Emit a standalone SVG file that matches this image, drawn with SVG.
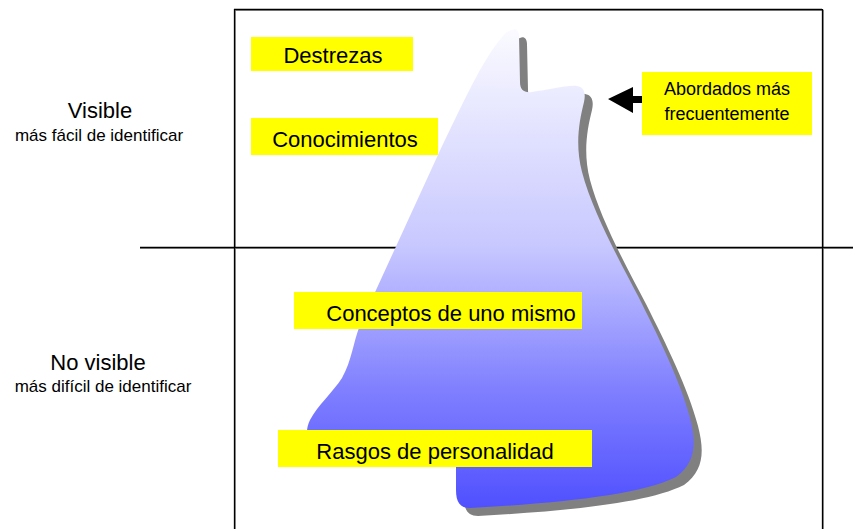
<svg xmlns="http://www.w3.org/2000/svg" width="853" height="529" viewBox="0 0 853 529">
<defs>
<linearGradient id="ice" x1="0" y1="30" x2="0" y2="508" gradientUnits="userSpaceOnUse">
<stop offset="0" stop-color="#fafaff"/>
<stop offset="0.45" stop-color="#c8c8ff"/>
<stop offset="0.75" stop-color="#8080ff"/>
<stop offset="1" stop-color="#5050ff"/>
</linearGradient>
<path id="berg" d="M 512,30 C 516,28 519,31 519,36 L 520,82 C 520,90 524,93 532,92 C 548,90 566,85 577,86 C 584,87 586,93 584,102 C 579,122 575,145 582,172 C 592,210 618,258 638,296 C 658,336 680,380 690,418 C 697,445 695,463 676,477 C 640,495 560,503 470,508 C 460,508 456,502 456,490 L 456,445 L 310,445 C 306,435 306,428 310,420 C 318,405 333,392 342,378 C 352,360 353,343 360,325 L 437,157 C 462,105 482,60 503,36 C 505,33 508,31 512,30 Z"/>
</defs>
<style>
.frame{stroke:#000;stroke-width:1.3;fill:none}
.fshadow{stroke:#999;stroke-width:1;fill:none}
.box{fill:#ffff00}
.t{font-family:"Liberation Sans",Arial,sans-serif;fill:#000;text-anchor:middle}
.big{font-size:22px}
.sub{font-size:17px}
.mid{font-size:18px}
</style>
<rect width="853" height="529" fill="#fff"/>
<g id="frame">
<path class="fshadow" d="M 235,10.5 H 823 M 235.5,10 V 529 M 823.5,10 V 529 M 140,248.5 H 853"/>
<path class="frame" d="M 234,9.5 H 822 M 234.5,9 V 529 M 822.5,9 V 529 M 140,247.5 H 853"/>
</g>
<g id="iceberg">
<use href="#berg" transform="translate(8,8)" fill="#808080"/>
<use href="#berg" fill="url(#ice)"/>
</g>
<g id="label-visible">
<text class="t big" x="100" y="118">Visible</text>
<text class="t sub" x="99" y="141">más fácil de identificar</text>
</g>
<g id="label-novisible">
<text class="t big" x="98" y="370">No visible</text>
<text class="t sub" x="103" y="392">más difícil de identificar</text>
</g>
<g id="destrezas">
<rect class="box" x="251" y="37" width="162" height="34"/>
<text class="t big" x="333" y="63">Destrezas</text>
</g>
<g id="conocimientos">
<rect class="box" x="251" y="118" width="187" height="37"/>
<text class="t big" x="345" y="147">Conocimientos</text>
</g>
<g id="conceptos">
<rect class="box" x="294" y="292" width="288" height="37"/>
<text class="t big" x="451" y="321">Conceptos de uno mismo</text>
</g>
<g id="rasgos">
<rect class="box" x="278" y="430" width="314" height="37"/>
<text class="t big" x="435" y="459">Rasgos de personalidad</text>
</g>
<g id="abordados">
<rect class="box" x="642" y="72" width="170" height="63"/>
<text class="t mid" x="727" y="95">Abordados más</text>
<text class="t mid" x="727" y="120">frecuentemente</text>
</g>
<g id="connectors">
<path d="M 608,99 L 633,87 L 633,96 L 642,96 L 642,103 L 633,103 L 633,113 Z" fill="#000"/>
</g>
</svg>
